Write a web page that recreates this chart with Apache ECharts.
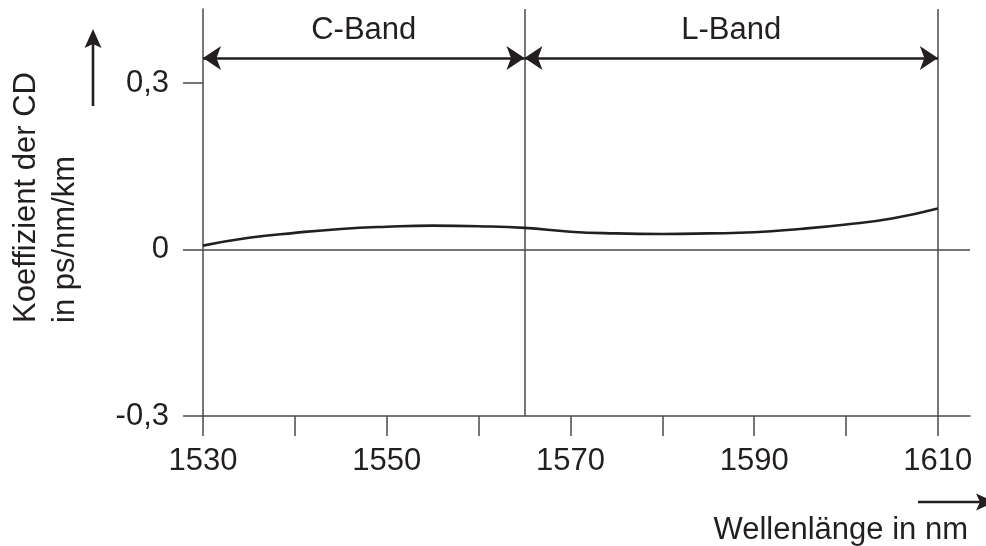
<!DOCTYPE html>
<html lang="de">

<head>
  <meta charset="UTF-8">
  <title>Koeffizient der CD</title>
  <style>
    html,
    body {
      margin: 0;
      padding: 0;
      overflow: hidden;
      background: #fff;
    }

    #chart {
      width: 986px;
      height: 546px;
    }
  </style>
</head>

<body>
  <div id="chart"></div>
</body>
<script src="https://cdn.jsdelivr.net/npm/echarts@6/dist/echarts.min.js"></script>
<script>
  // Wellenlänge in nm
  const wavelengths = [1530, 1535, 1540, 1545, 1550, 1555, 1560, 1565, 1570, 1575, 1580, 1585, 1590, 1595, 1600, 1605, 1610];
  // Koeffizient der CD in ps/nm/km
  const cdCoeff = [0.007, 0.021, 0.030, 0.037, 0.041, 0.043, 0.042, 0.039, 0.032, 0.029, 0.028, 0.029, 0.031, 0.037, 0.045, 0.056, 0.074];

  const xTickValues = [1530, 1540, 1550, 1560, 1570, 1580, 1590, 1600, 1610];
  const xLabelValues = [1530, 1550, 1570, 1590, 1610];
  const yTickValues = [-0.3, 0, 0.3];

  const bandNames = ['C-Band', 'L-Band'];
  const bandEdges = [1530, 1565, 1610];
  const bandArrowLevel = 0.345;

  const ink = '#231f20';
  const lineGrey = '#4a4a4a';
  const font = "'Liberation Sans', Arial, sans-serif";

  const chart = echarts.init(document.getElementById('chart'));

  // Pfeile für die Bänder
  const bandLines = bandNames.map((name, i) => [
    { coord: [bandEdges[i], bandArrowLevel], symbol: 'arrow', name: name },
    { coord: [bandEdges[i + 1], bandArrowLevel], symbol: 'arrow' }
  ]);

  const option = {
    animation: false,
    backgroundColor: '#fff',
    textStyle: { fontFamily: font },
    grid: { left: 203, right: 16, top: 9, bottom: 130 },
    xAxis: {
      type: 'value',
      min: 1530,
      max: 1613.5,
      axisLine: { onZero: false, lineStyle: { color: lineGrey, width: 1.5 } },
      axisTick: { customValues: xTickValues, length: 20, lineStyle: { color: lineGrey, width: 1.5 } },
      axisLabel: {
        customValues: xLabelValues,
        margin: 30,
        fontSize: 31,
        color: ink,
        fontFamily: font,
        formatter: v => String(v)
      },
      splitLine: { show: false }
    },
    yAxis: {
      type: 'value',
      min: -0.3,
      max: 0.4333,
      axisLine: { show: true, onZero: false, lineStyle: { color: lineGrey, width: 1.5 } },
      axisTick: { show: true, customValues: yTickValues, length: 20, lineStyle: { color: lineGrey, width: 1.5 } },
      axisLabel: {
        customValues: yTickValues,
        margin: 34,
        fontSize: 31,
        color: ink,
        fontFamily: font,
        formatter: v => String(v).replace('.', ',')
      },
      splitLine: { show: false }
    },
    series: [{
      type: 'line',
      data: wavelengths.map((w, i) => [w, cdCoeff[i]]),
      smooth: true,
      showSymbol: false,
      lineStyle: { color: ink, width: 2.6 },
      z: 5,
      markLine: {
        silent: true,
        animation: false,
        symbol: 'none',
        label: { show: false },
        lineStyle: { color: lineGrey, width: 1.5, type: 'solid' },
        emphasis: { disabled: true },
        data: [
          { yAxis: 0 },
          { xAxis: 1565 },
          { xAxis: 1610 },
          ...bandLines.map(pair => [
            Object.assign({}, pair[0], {
              symbolSize: 18,
              lineStyle: { color: ink, width: 2.6 },
              label: {
                show: true,
                position: 'middle',
                formatter: '{b}',
                distance: 12,
                fontSize: 31,
                color: ink,
                fontFamily: font
              }
            }),
            Object.assign({}, pair[1], { symbolSize: 18 })
          ])
        ]
      }
    }],
    graphic: [
      // y-Achsentitel
      {
        type: 'text',
        x: 7,
        y: 323,
        rotation: Math.PI / 2,
        style: {
          text: 'Koeffizient der CD\nin ps/nm/km',
          font: '31px ' + font,
          fill: ink,
          align: 'left',
          verticalAlign: 'top',
          lineHeight: 39
        }
      },
      // Pfeil nach oben
      {
        type: 'line',
        shape: { x1: 93, y1: 106, x2: 93, y2: 42 },
        style: { stroke: ink, lineWidth: 2.6 }
      },
      {
        type: 'polygon',
        shape: { points: [[93, 29], [101.5, 48], [93, 44], [84.5, 48]] },
        style: { fill: ink }
      },
      // Pfeil nach rechts
      {
        type: 'line',
        shape: { x1: 918, y1: 502, x2: 982, y2: 502 },
        style: { stroke: ink, lineWidth: 2.6 }
      },
      {
        type: 'polygon',
        shape: { points: [[995, 502], [976, 493.5], [980, 502], [976, 510.5]] },
        style: { fill: ink }
      },
      // x-Achsentitel
      {
        type: 'text',
        x: 968,
        y: 530,
        style: {
          text: 'Wellenlänge in nm',
          font: '31px ' + font,
          fill: ink,
          align: 'right',
          verticalAlign: 'middle'
        }
      }
    ]
  };

  chart.setOption(option);
</script>

</html>
